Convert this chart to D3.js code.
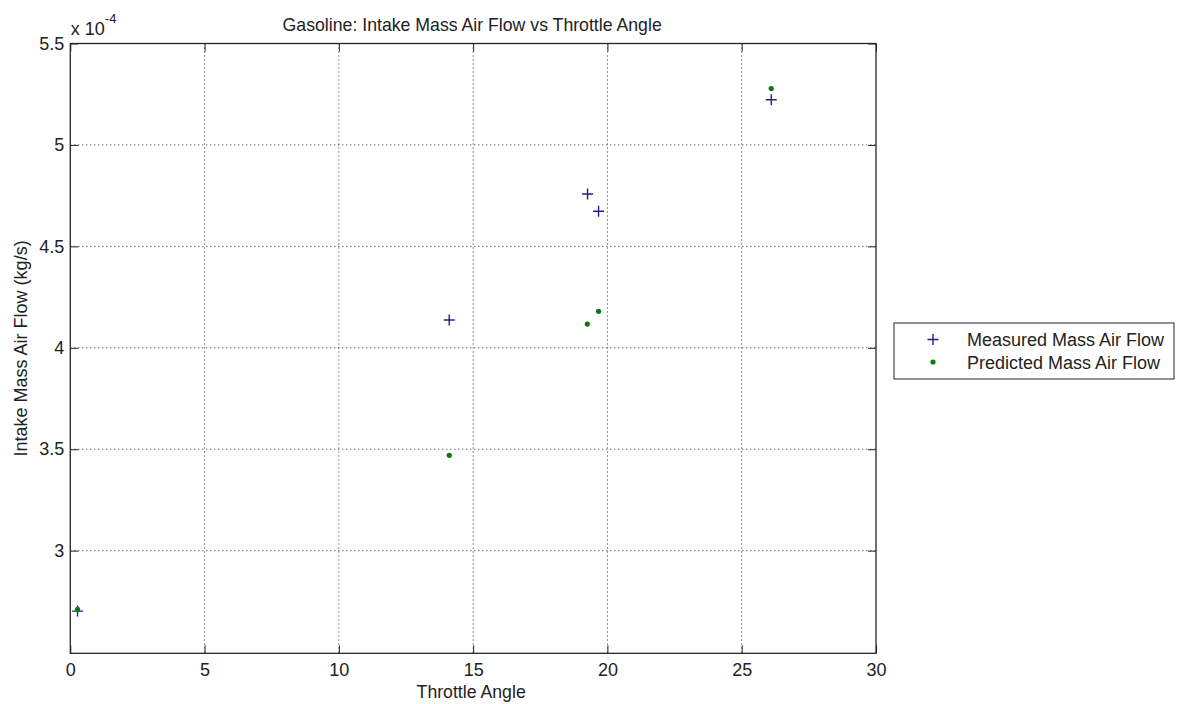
<!DOCTYPE html>
<html><head><meta charset="utf-8">
<script src="https://cdn.jsdelivr.net/npm/d3@7"></script>
<style>
body{margin:0;background:#fff;}
svg{display:block;font-family:"Liberation Sans",Arial,sans-serif;}
</style></head>
<body>
<svg id="c" width="1182" height="704"></svg>
<script>
// Data (mass air flow in units of 1e-4 kg/s)
const measuredAngle = [0.27, 14.11, 19.26, 19.67, 26.10];
const measuredFlow  = [2.702, 4.137, 4.758, 4.673, 5.223];
const predictedAngle = [0.27, 14.11, 19.25, 19.67, 26.10];
const predictedFlow  = [2.711, 3.470, 4.117, 4.180, 5.278];
const xTicks = [0, 5, 10, 15, 20, 25, 30];
const yTicks = [3, 3.5, 4, 4.5, 5, 5.5];
const seriesNames = ["Measured Mass Air Flow", "Predicted Mass Air Flow"];

const svg = d3.select("#c");
const L = 70.3, R = 876, T = 43.5, B = 653.3;
const x = d3.scaleLinear().domain([0, 30]).range([L, R]);
const y = d3.scaleLinear().domain([2.494, 5.5]).range([B, T]);
const axisColor = "#262626";
const fs = 18;

// grid
const grid = svg.append("g");
grid.selectAll("line.gx").data(xTicks.filter(d => d > 0 && d < 30)).join("line")
  .attr("x1", d => x(d)).attr("x2", d => x(d)).attr("y1", T).attr("y2", B)
  .attr("stroke", "#222").attr("stroke-width", 1).attr("stroke-dasharray", "1,3");
grid.selectAll("line.gy").data(yTicks.filter(d => d < 5.5)).join("line")
  .attr("y1", d => y(d)).attr("y2", d => y(d)).attr("x1", L).attr("x2", R)
  .attr("stroke", "#222").attr("stroke-width", 1).attr("stroke-dasharray", "1,3");

// axes via d3
const tickLen = 8;
const xb = svg.append("g").attr("transform", `translate(0,${B})`)
  .call(d3.axisBottom(x).tickValues(xTicks).tickSizeInner(-tickLen).tickSizeOuter(0).tickPadding(10).tickFormat(d3.format("d")));
const xt = svg.append("g").attr("transform", `translate(0,${T})`)
  .call(d3.axisTop(x).tickValues(xTicks).tickSizeInner(-tickLen).tickSizeOuter(0).tickFormat(""));
const yl = svg.append("g").attr("transform", `translate(${L},0)`)
  .call(d3.axisLeft(y).tickValues(yTicks).tickSizeInner(-tickLen).tickSizeOuter(0).tickPadding(6).tickFormat(d => d3.format("")(d)));
const yr = svg.append("g").attr("transform", `translate(${R},0)`)
  .call(d3.axisRight(y).tickValues(yTicks).tickSizeInner(-tickLen).tickSizeOuter(0).tickFormat(""));
[xb, xt, yl, yr].forEach(g => {
  g.select(".domain").remove();
  g.selectAll("line").attr("stroke", axisColor);
  g.selectAll("text").attr("fill", "#222").style("font-size", fs + "px").style("font-family", "Liberation Sans, Arial, sans-serif");
});
xb.selectAll("text").attr("dy", "0.71em");
// box
svg.append("rect").attr("x", L).attr("y", T).attr("width", R - L).attr("height", B - T)
  .attr("fill", "none").attr("stroke", axisColor).attr("stroke-width", 1.3);

// exponent label
const ex = svg.append("text").attr("x", L + 0.5).attr("y", 35).attr("fill", "#222").style("font-size", fs + "px");
ex.append("tspan").text("x 10");
ex.append("tspan").attr("dy", -12).style("font-size", "13px").text("-4");

// title and axis labels
svg.append("text").attr("x", (L + R) / 2 - 1).attr("y", 31).attr("text-anchor", "middle")
  .attr("fill", "#222").style("font-size", "17.7px").text("Gasoline: Intake Mass Air Flow vs Throttle Angle");
svg.append("text").attr("x", (L + R) / 2 - 2).attr("y", 698).attr("text-anchor", "middle")
  .attr("fill", "#222").style("font-size", "17.7px").text("Throttle Angle");
svg.append("text").attr("transform", `translate(27,${(T + B) / 2}) rotate(-90)`).attr("text-anchor", "middle")
  .attr("fill", "#222").style("font-size", fs + "px").text("Intake Mass Air Flow (kg/s)");

// markers
const blue = "#1f1f8f", green = "#0b7a0b";
function plus(g, cx, cy) {
  const s = 5.5;
  g.append("path").attr("d", `M${cx - s},${cy}H${cx + s}M${cx},${cy - s}V${cy + s}`)
    .attr("stroke", blue).attr("stroke-width", 1.4).attr("fill", "none");
}
const pts = svg.append("g");
measuredAngle.forEach((a, i) => plus(pts, x(a), y(measuredFlow[i])));
pts.selectAll("circle.p").data(predictedAngle.map((a, i) => [a, predictedFlow[i]])).join("circle")
  .attr("cx", d => x(d[0])).attr("cy", d => y(d[1])).attr("r", 2.6).attr("fill", green);

// legend
const lg = svg.append("g");
lg.append("rect").attr("x", 894).attr("y", 323).attr("width", 280).attr("height", 56)
  .attr("fill", "#fff").attr("stroke", axisColor).attr("stroke-width", 1);
plus(lg, 933, 339.5);
lg.append("circle").attr("cx", 933).attr("cy", 362).attr("r", 2.6).attr("fill", green);
lg.selectAll("text").data(seriesNames).join("text")
  .attr("x", 967).attr("y", (d, i) => 346 + i * 22.5).attr("fill", "#222")
  .style("font-size", fs + "px").text(d => d);
</script>
</body></html>
